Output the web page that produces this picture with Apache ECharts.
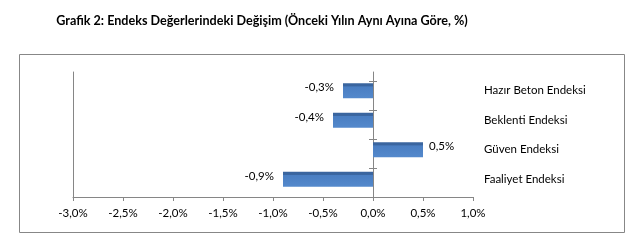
<!DOCTYPE html>
<html><head><meta charset="utf-8">
<script src="https://cdn.jsdelivr.net/npm/echarts@6/dist/echarts.min.js"></script>
<style>html,body{margin:0;padding:0;background:#fff}#c{width:639px;height:248px}</style>
</head><body><div id="c"></div>
<script>
const titleText = 'Grafik 2: Endeks Değerlerindeki Değişim (Önceki Yılın Aynı Ayına Göre, %)';
const categories = ['Faaliyet Endeksi', 'Güven Endeksi', 'Beklenti Endeksi', 'Hazır Beton Endeksi'];
const values = [-0.9, 0.5, -0.4, -0.3];
const xMin = -3.0, xMax = 1.0, xStep = 0.5;
const frameTicks = [0, 29, 58, 87, 116];

const FONT = 'Lato';
const fmt = v => v.toFixed(1).replace('.', ',').replace('-0,0', '0,0') + '%';
const axisColor = '#868686';

const chart = echarts.init(document.getElementById('c'), null, {renderer: 'canvas'});
chart.setOption({
  animation: false,
  backgroundColor: '#fff',
  textStyle: {fontFamily: FONT},
  graphic: [
    {type: 'rect', shape: {x: 19.5, y: 54.5, width: 605, height: 178}, style: {fill: 'none', stroke: '#878787', lineWidth: 1}, silent: true},
    {type: 'text', x: 262, y: 21, style: {text: titleText, textAlign: 'center', textVerticalAlign: 'middle', font: 'bold 12.6px ' + FONT, fill: '#000'}}
  ],
  grid: [
    {left: 73, right: 166, top: 72, bottom: 51},
    {left: 73, right: 166, top: 76, bottom: 54}
  ],
  xAxis: [
    {type: 'value', gridIndex: 0, min: xMin, max: xMax, interval: xStep,
     axisLine: {show: true, onZero: false, lineStyle: {color: axisColor}},
     axisTick: {show: true, length: 4, lineStyle: {color: axisColor}},
     axisLabel: {formatter: fmt, fontSize: 11.5, color: '#000', margin: 10, fontFamily: FONT},
     splitLine: {show: false}},
    {type: 'value', gridIndex: 1, min: xMin, max: xMax, show: false, splitLine: {show: false}}
  ],
  yAxis: [
    {type: 'value', gridIndex: 0, min: 0, max: 125, position: 'left',
     axisLine: {show: true, onZero: false, lineStyle: {color: axisColor}},
     axisTick: {show: false}, axisLabel: {show: false}, splitLine: {show: false}},
    {type: 'value', gridIndex: 0, min: 0, max: 125, position: 'left',
     axisLine: {show: true, onZero: true, onZeroAxisIndex: 0, lineStyle: {color: axisColor}},
     axisTick: {show: true, length: 4, inside: false, customValues: frameTicks, lineStyle: {color: axisColor}},
     axisLabel: {show: false}, splitLine: {show: false}},
    {type: 'value', gridIndex: 0, min: 0, max: 125, position: 'left',
     axisLine: {show: false, onZero: true, onZeroAxisIndex: 0},
     axisTick: {show: true, length: 4, inside: true, customValues: frameTicks, lineStyle: {color: axisColor}},
     axisLabel: {show: false}, splitLine: {show: false}},
    {type: 'category', gridIndex: 1, data: categories, position: 'right',
     axisLine: {show: false, onZero: false}, axisTick: {show: false},
     axisLabel: {fontSize: 11.5, color: '#000', margin: 11, align: 'left', fontFamily: FONT, padding: [0, 0, 6, 0]},
     splitLine: {show: false}}
  ],
  series: [{
    type: 'bar', xAxisIndex: 1, yAxisIndex: 3, barWidth: 15,
    data: values.map(v => ({value: v, label: {position: v < 0 ? 'left' : 'right', distance: v < 0 ? 9 : 6}})),
    itemStyle: {color: new echarts.graphic.LinearGradient(0, 0, 0, 1, [
      {offset: 0, color: '#3a659f'}, {offset: 0.18, color: '#3a659f'},
      {offset: 0.24, color: '#4a7ec2'}, {offset: 1, color: '#5489cc'}])},
    label: {show: true, formatter: p => fmt(p.value), fontSize: 11.5, color: '#000', fontFamily: FONT, offset: [0, -3]}
  }]
});
</script></body></html>
